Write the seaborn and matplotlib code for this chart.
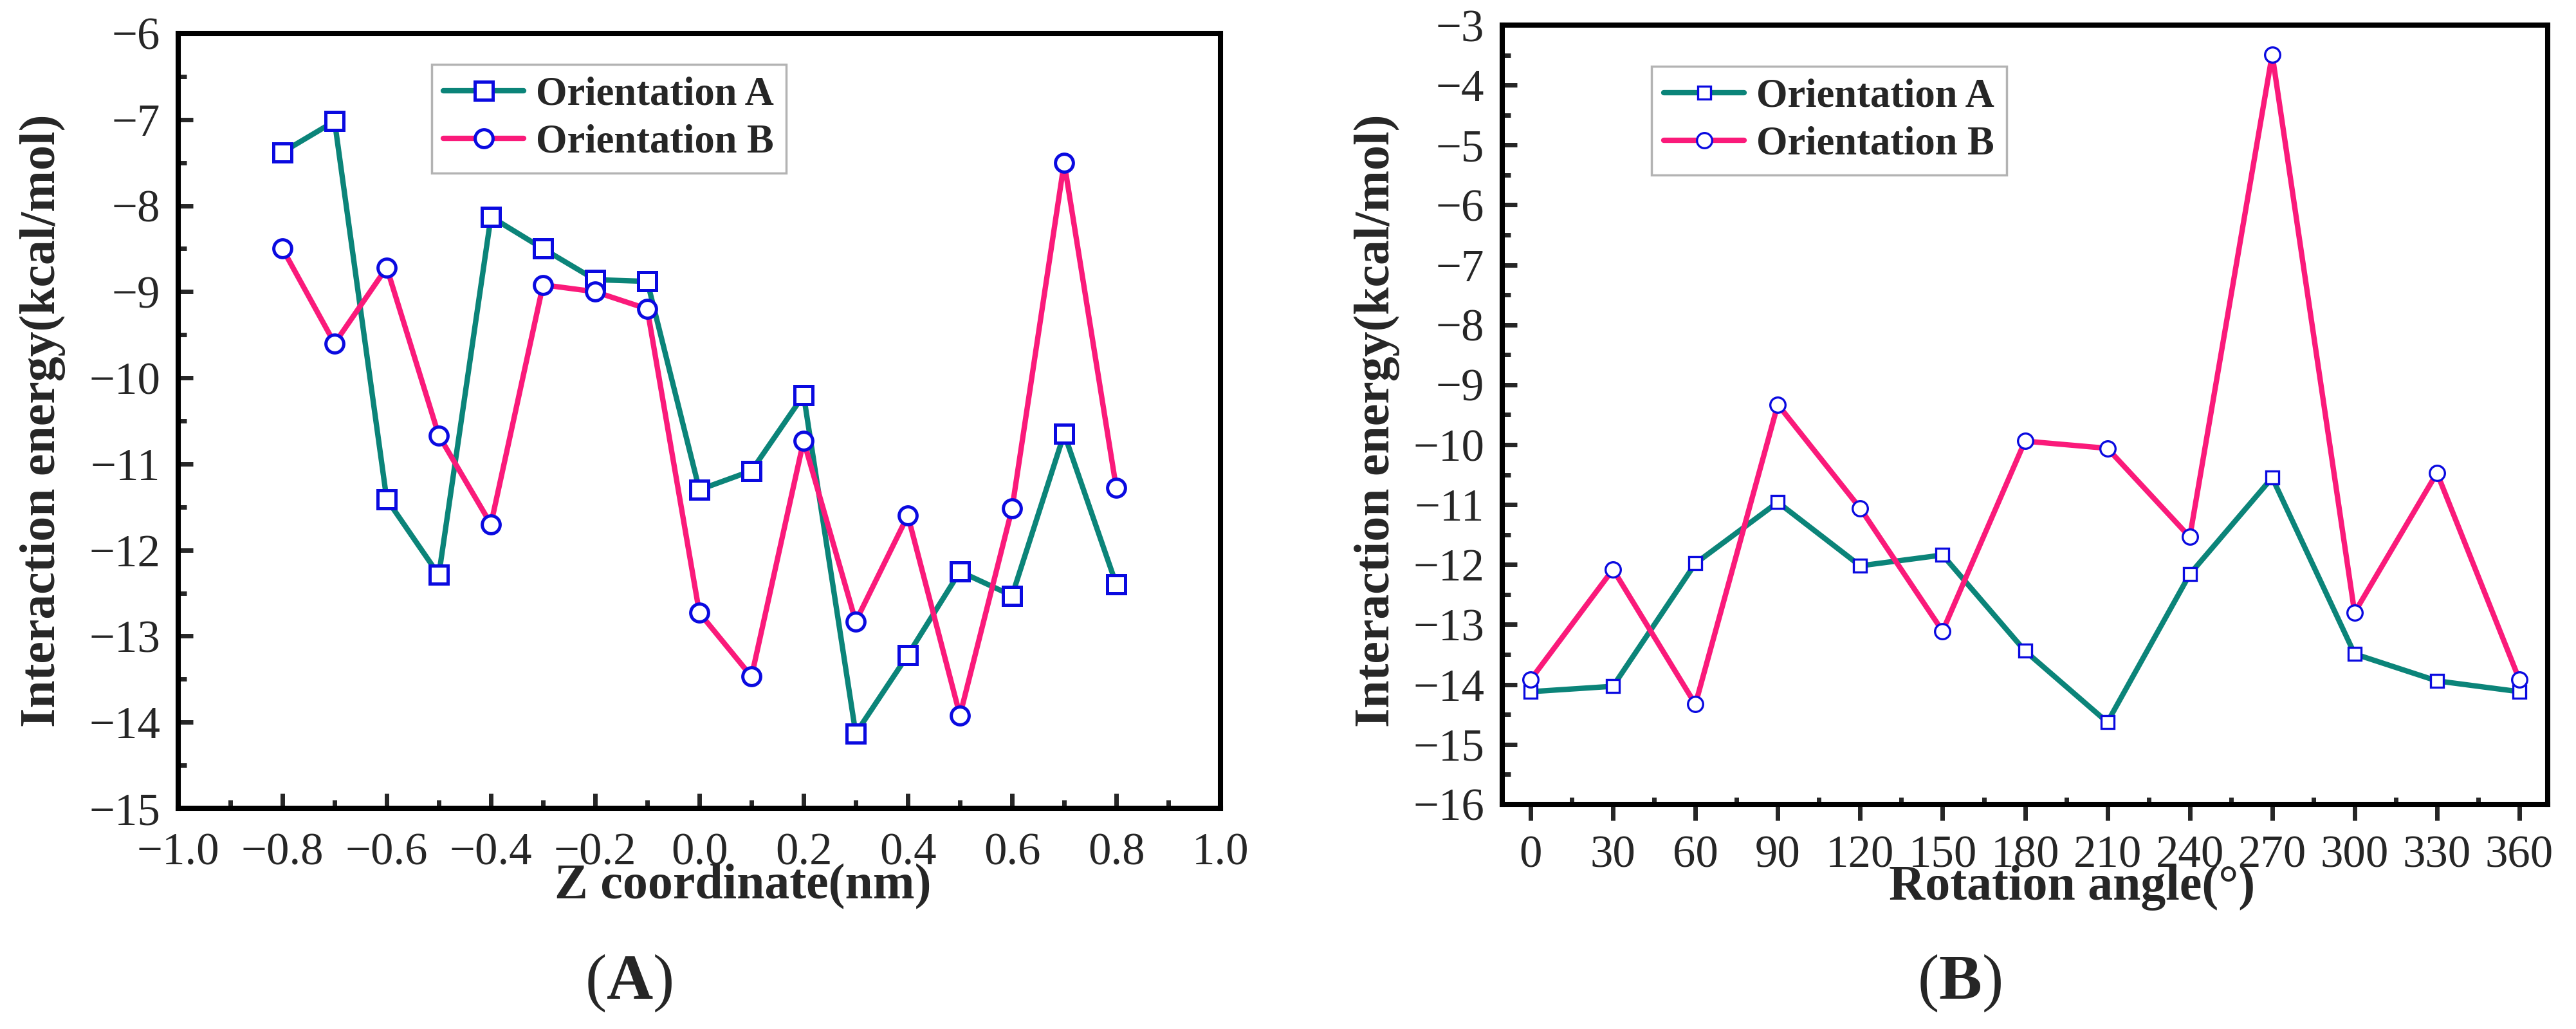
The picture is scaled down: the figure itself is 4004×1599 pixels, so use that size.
import numpy as np
import pandas as pd
import seaborn as sns
import matplotlib.pyplot as plt
from matplotlib.ticker import MultipleLocator, FuncFormatter

sns.set_style('ticks')
plt.rcParams['font.family'] = ['Liberation Serif', 'DejaVu Serif']
plt.rcParams['mathtext.fontset'] = 'custom'
plt.rcParams['mathtext.rm'] = 'Liberation Serif'
plt.rcParams['mathtext.bf'] = 'Liberation Serif:bold'

# panel A data: interaction energy vs Z coordinate
z_coord = [-0.8, -0.7, -0.6, -0.5, -0.4, -0.3, -0.2, -0.1, 0.0,
           0.1, 0.2, 0.3, 0.4, 0.5, 0.6, 0.7, 0.8]
z_orient_a = [-7.38, -7.02, -11.41, -12.29, -8.13, -8.50, -8.86, -8.88, -11.30,
              -11.08, -10.20, -14.13, -13.22, -12.25, -12.53, -10.65, -12.40]
z_orient_b = [-8.50, -9.60, -8.72, -10.67, -11.70, -8.92, -9.00, -9.20, -12.73,
              -13.47, -10.73, -12.83, -11.60, -13.92, -11.52, -7.50, -11.28]

# panel B data: interaction energy vs rotation angle
angle = [0, 30, 60, 90, 120, 150, 180, 210, 240, 270, 300, 330, 360]
rot_orient_a = [-14.12, -14.03, -11.98, -10.96, -12.02, -11.84, -13.44,
                -14.63, -12.16, -10.55, -13.49, -13.94, -14.12]
rot_orient_b = [-13.92, -12.08, -14.33, -9.33, -11.06, -13.11, -9.94,
                -10.06, -11.54, -3.49, -12.80, -10.47, -13.92]

labels = ['Orientation A', 'Orientation B']
teal = '#0b8479'
pink = '#fa1a7a'
blue = '#0a0ae0'

fig = plt.figure(figsize=(40.04, 15.99), dpi=100)
axA = fig.add_axes([0.0692, 0.2145, 0.4046, 0.7530])
axB = fig.add_axes([0.5832, 0.2183, 0.4058, 0.7573])


def draw(ax, x, ya, yb, ms_sq, ms_ci, mew):
    df = pd.DataFrame({'x': x, 'a': ya, 'b': yb})
    sns.lineplot(data=df, x='x', y='a', ax=ax, color=teal, lw=6,
                 marker='s', markersize=ms_sq, markerfacecolor='white',
                 markeredgecolor=blue, markeredgewidth=mew, label=labels[0])
    sns.lineplot(data=df, x='x', y='b', ax=ax, color=pink, lw=6,
                 marker='o', markersize=ms_ci, markerfacecolor='white',
                 markeredgecolor=blue, markeredgewidth=mew, label=labels[1])
    for s in ax.spines.values():
        s.set_linewidth(5.8)
        s.set_color('black')
    ax.tick_params(axis='both', which='major', direction='in', length=16.5,
                   width=5, labelsize=51, top=False, right=False)
    ax.tick_params(axis='both', which='minor', direction='in', length=9.4,
                   width=5, top=False, right=False)
    ax.tick_params(axis='y', which='major', pad=20)
    ax.yaxis.set_major_locator(MultipleLocator(1))
    ax.yaxis.set_minor_locator(MultipleLocator(0.5))


def fmt_a(v, pos):
    if abs(v) < 1e-9:
        v = 0.0
    return f'{v:.1f}'.replace('-', '\u2212')


# panel A
draw(axA, z_coord, z_orient_a, z_orient_b, 20, 20, 3.6)
axA.set_xlim(-1.0, 1.0)
axA.set_ylim(-15, -6)
axA.xaxis.set_major_locator(MultipleLocator(0.2))
axA.xaxis.set_minor_locator(MultipleLocator(0.1))
axA.xaxis.set_major_formatter(FuncFormatter(fmt_a))
axA.tick_params(axis='x', which='major', pad=27)
axA.set_xlabel('Z coordinate(nm)', fontsize=56, fontweight='bold', va='center')
axA.set_ylabel('Interaction energy(kcal/mol)', fontsize=56, fontweight='bold', va='center')
axA.xaxis.set_label_coords(0.542, -0.101)
axA.yaxis.set_label_coords(-0.130, 0.5)
legA = axA.legend(loc='upper left', bbox_to_anchor=(0.243, 0.960), borderaxespad=0,
                  fancybox=False, edgecolor='#a0a0a0', prop={'weight': 'bold', 'size': 45},
                  handlelength=2.0, handletextpad=0.3, labelspacing=0.25, borderpad=0.3)
legA.get_frame().set_linewidth(2.5)

# panel B
draw(axB, angle, rot_orient_a, rot_orient_b, 15, 17, 2.4)
axB.set_xlim(-10.3, 370.3)
axB.set_ylim(-16, -3)
axB.xaxis.set_major_locator(MultipleLocator(30))
axB.xaxis.set_minor_locator(MultipleLocator(15))
axB.tick_params(axis='x', which='major', direction='out', length=18, pad=16)
axB.tick_params(axis='x', which='minor', direction='in', length=8)
axB.set_xlabel('Rotation angle(°)', fontsize=56, fontweight='bold', va='center')
axB.set_ylabel('Interaction energy(kcal/mol)', fontsize=56, fontweight='bold', va='center')
axB.xaxis.set_label_coords(0.545, -0.107)
axB.yaxis.set_label_coords(-0.120, 0.492)
legB = axB.legend(loc='upper left', bbox_to_anchor=(0.143, 0.947), borderaxespad=0,
                  fancybox=False, edgecolor='#a0a0a0', prop={'weight': 'bold', 'size': 45},
                  handlelength=2.0, handletextpad=0.3, labelspacing=0.25, borderpad=0.3)
legB.get_frame().set_linewidth(2.5)

fig.text(0.244, 0.0444, r'($\mathbf{A}$)', fontsize=72, ha='center', va='center')
fig.text(0.7605, 0.0444, r'($\mathbf{B}$)', fontsize=72, ha='center', va='center')

fig.savefig('out.png', dpi=100)
